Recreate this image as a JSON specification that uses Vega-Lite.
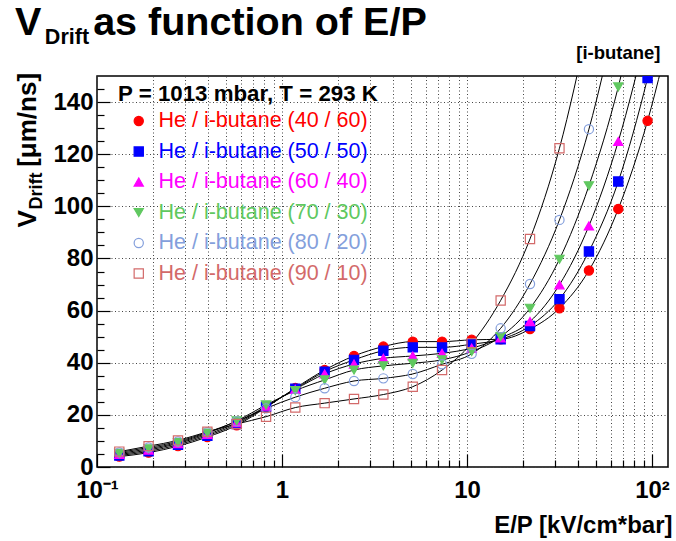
{
  "$schema": "https://vega.github.io/schema/vega-lite/v6.json",
  "width": 571,
  "height": 391,
  "autosize": {"type": "none"},
  "padding": {"left": 97, "top": 76, "right": 8, "bottom": 74},
  "background": "white",
  "title": {
    "text": "V\u00a0\u00a0\u00a0\u00a0\u2009as function of E/P",
    "subtitle": "\u200b\u00a0\u00a0\u00a0\u00a0\u00a0Drift",
    "anchor": "start",
    "frame": "group",
    "dx": -82,
    "offset": -6,
    "font": "Liberation Sans",
    "fontSize": 39.5,
    "fontWeight": "bold",
    "color": "black",
    "subtitleFont": "Liberation Sans",
    "subtitleFontSize": 21.5,
    "subtitleFontWeight": "bold",
    "subtitleColor": "black",
    "subtitlePadding": -17
  },
  "config": {
    "font": "Liberation Sans",
    "view": {"stroke": "black", "strokeWidth": 1.5},
    "axis": {
      "labelFont": "Liberation Sans",
      "labelFontWeight": "bold",
      "labelFontSize": 24,
      "labelColor": "black",
      "titleFont": "Liberation Sans",
      "titleFontWeight": "bold",
      "titleColor": "black",
      "tickColor": "black",
      "tickWidth": 1.2,
      "gridColor": "#444444",
      "gridDash": [1, 2.5],
      "gridOpacity": 1,
      "gridWidth": 1,
      "domain": false
    }
  },
  "data": {
    "values": [
      {"series": "He / i-butane (40 / 60)", "x": 0.132, "v": 4.0},
      {"series": "He / i-butane (40 / 60)", "x": 0.19, "v": 5.5},
      {"series": "He / i-butane (40 / 60)", "x": 0.274, "v": 8.0},
      {"series": "He / i-butane (40 / 60)", "x": 0.395, "v": 11.5},
      {"series": "He / i-butane (40 / 60)", "x": 0.569, "v": 16.0},
      {"series": "He / i-butane (40 / 60)", "x": 0.82, "v": 22.8},
      {"series": "He / i-butane (40 / 60)", "x": 1.18, "v": 30.3},
      {"series": "He / i-butane (40 / 60)", "x": 1.7, "v": 37.2},
      {"series": "He / i-butane (40 / 60)", "x": 2.45, "v": 42.6},
      {"series": "He / i-butane (40 / 60)", "x": 3.53, "v": 46.2},
      {"series": "He / i-butane (40 / 60)", "x": 5.09, "v": 48.1},
      {"series": "He / i-butane (40 / 60)", "x": 7.33, "v": 48.1},
      {"series": "He / i-butane (40 / 60)", "x": 10.6, "v": 48.8},
      {"series": "He / i-butane (40 / 60)", "x": 15.2, "v": 49.0},
      {"series": "He / i-butane (40 / 60)", "x": 21.9, "v": 52.9},
      {"series": "He / i-butane (40 / 60)", "x": 31.6, "v": 60.9},
      {"series": "He / i-butane (40 / 60)", "x": 45.6, "v": 75.4},
      {"series": "He / i-butane (40 / 60)", "x": 65.7, "v": 99.0},
      {"series": "He / i-butane (40 / 60)", "x": 94.6, "v": 132.8},
      {"series": "He / i-butane (40 / 60)", "x": 136, "v": 178},
      {"series": "He / i-butane (50 / 50)", "x": 0.132, "v": 4.4},
      {"series": "He / i-butane (50 / 50)", "x": 0.19, "v": 6.0},
      {"series": "He / i-butane (50 / 50)", "x": 0.274, "v": 8.5},
      {"series": "He / i-butane (50 / 50)", "x": 0.395, "v": 12.0},
      {"series": "He / i-butane (50 / 50)", "x": 0.569, "v": 16.5},
      {"series": "He / i-butane (50 / 50)", "x": 0.82, "v": 23.1},
      {"series": "He / i-butane (50 / 50)", "x": 1.18, "v": 30.0},
      {"series": "He / i-butane (50 / 50)", "x": 1.7, "v": 36.6},
      {"series": "He / i-butane (50 / 50)", "x": 2.45, "v": 41.1},
      {"series": "He / i-butane (50 / 50)", "x": 3.53, "v": 44.6},
      {"series": "He / i-butane (50 / 50)", "x": 5.09, "v": 45.9},
      {"series": "He / i-butane (50 / 50)", "x": 7.33, "v": 45.9},
      {"series": "He / i-butane (50 / 50)", "x": 10.6, "v": 47.1},
      {"series": "He / i-butane (50 / 50)", "x": 15.2, "v": 49.0},
      {"series": "He / i-butane (50 / 50)", "x": 21.9, "v": 54.1},
      {"series": "He / i-butane (50 / 50)", "x": 31.6, "v": 64.4},
      {"series": "He / i-butane (50 / 50)", "x": 45.6, "v": 82.7},
      {"series": "He / i-butane (50 / 50)", "x": 65.7, "v": 109.5},
      {"series": "He / i-butane (50 / 50)", "x": 94.6, "v": 149.2},
      {"series": "He / i-butane (50 / 50)", "x": 136, "v": 200},
      {"series": "He / i-butane (60 / 40)", "x": 0.132, "v": 4.8},
      {"series": "He / i-butane (60 / 40)", "x": 0.19, "v": 6.5},
      {"series": "He / i-butane (60 / 40)", "x": 0.274, "v": 9.0},
      {"series": "He / i-butane (60 / 40)", "x": 0.395, "v": 12.5},
      {"series": "He / i-butane (60 / 40)", "x": 0.569, "v": 17.0},
      {"series": "He / i-butane (60 / 40)", "x": 0.82, "v": 23.3},
      {"series": "He / i-butane (60 / 40)", "x": 1.18, "v": 29.8},
      {"series": "He / i-butane (60 / 40)", "x": 1.7, "v": 35.7},
      {"series": "He / i-butane (60 / 40)", "x": 2.45, "v": 39.5},
      {"series": "He / i-butane (60 / 40)", "x": 3.53, "v": 41.7},
      {"series": "He / i-butane (60 / 40)", "x": 5.09, "v": 42.6},
      {"series": "He / i-butane (60 / 40)", "x": 7.33, "v": 43.6},
      {"series": "He / i-butane (60 / 40)", "x": 10.6, "v": 45.6},
      {"series": "He / i-butane (60 / 40)", "x": 15.2, "v": 49.5},
      {"series": "He / i-butane (60 / 40)", "x": 21.9, "v": 55.8},
      {"series": "He / i-butane (60 / 40)", "x": 31.6, "v": 69.9},
      {"series": "He / i-butane (60 / 40)", "x": 45.6, "v": 92.5},
      {"series": "He / i-butane (60 / 40)", "x": 65.7, "v": 124.9},
      {"series": "He / i-butane (60 / 40)", "x": 94.6, "v": 168},
      {"series": "He / i-butane (70 / 30)", "x": 0.132, "v": 5.2},
      {"series": "He / i-butane (70 / 30)", "x": 0.19, "v": 7.0},
      {"series": "He / i-butane (70 / 30)", "x": 0.274, "v": 9.4},
      {"series": "He / i-butane (70 / 30)", "x": 0.395, "v": 13.0},
      {"series": "He / i-butane (70 / 30)", "x": 0.569, "v": 17.7},
      {"series": "He / i-butane (70 / 30)", "x": 0.82, "v": 23.8},
      {"series": "He / i-butane (70 / 30)", "x": 1.18, "v": 29.3},
      {"series": "He / i-butane (70 / 30)", "x": 1.7, "v": 33.4},
      {"series": "He / i-butane (70 / 30)", "x": 2.45, "v": 37.2},
      {"series": "He / i-butane (70 / 30)", "x": 3.53, "v": 38.8},
      {"series": "He / i-butane (70 / 30)", "x": 5.09, "v": 39.8},
      {"series": "He / i-butane (70 / 30)", "x": 7.33, "v": 41.1},
      {"series": "He / i-butane (70 / 30)", "x": 10.6, "v": 44.3},
      {"series": "He / i-butane (70 / 30)", "x": 15.2, "v": 50.0},
      {"series": "He / i-butane (70 / 30)", "x": 21.9, "v": 60.9},
      {"series": "He / i-butane (70 / 30)", "x": 31.6, "v": 79.7},
      {"series": "He / i-butane (70 / 30)", "x": 45.6, "v": 107.9},
      {"series": "He / i-butane (70 / 30)", "x": 65.7, "v": 145.8},
      {"series": "He / i-butane (70 / 30)", "x": 94.6, "v": 197},
      {"series": "He / i-butane (80 / 20)", "x": 0.132, "v": 5.6},
      {"series": "He / i-butane (80 / 20)", "x": 0.19, "v": 7.5},
      {"series": "He / i-butane (80 / 20)", "x": 0.274, "v": 9.8},
      {"series": "He / i-butane (80 / 20)", "x": 0.395, "v": 13.3},
      {"series": "He / i-butane (80 / 20)", "x": 0.569, "v": 17.5},
      {"series": "He / i-butane (80 / 20)", "x": 0.82, "v": 22.5},
      {"series": "He / i-butane (80 / 20)", "x": 1.18, "v": 26.8},
      {"series": "He / i-butane (80 / 20)", "x": 1.7, "v": 30.2},
      {"series": "He / i-butane (80 / 20)", "x": 2.45, "v": 33.0},
      {"series": "He / i-butane (80 / 20)", "x": 3.53, "v": 34.0},
      {"series": "He / i-butane (80 / 20)", "x": 5.09, "v": 35.7},
      {"series": "He / i-butane (80 / 20)", "x": 7.33, "v": 39.4},
      {"series": "He / i-butane (80 / 20)", "x": 10.6, "v": 43.4},
      {"series": "He / i-butane (80 / 20)", "x": 15.2, "v": 53.2},
      {"series": "He / i-butane (80 / 20)", "x": 21.9, "v": 70.2},
      {"series": "He / i-butane (80 / 20)", "x": 31.6, "v": 94.8},
      {"series": "He / i-butane (80 / 20)", "x": 45.6, "v": 129.6},
      {"series": "He / i-butane (80 / 20)", "x": 65.7, "v": 177},
      {"series": "He / i-butane (90 / 10)", "x": 0.132, "v": 5.9},
      {"series": "He / i-butane (90 / 10)", "x": 0.19, "v": 8.0},
      {"series": "He / i-butane (90 / 10)", "x": 0.274, "v": 10.2},
      {"series": "He / i-butane (90 / 10)", "x": 0.395, "v": 13.5},
      {"series": "He / i-butane (90 / 10)", "x": 0.569, "v": 16.5},
      {"series": "He / i-butane (90 / 10)", "x": 0.82, "v": 19.3},
      {"series": "He / i-butane (90 / 10)", "x": 1.18, "v": 22.8},
      {"series": "He / i-butane (90 / 10)", "x": 1.7, "v": 24.5},
      {"series": "He / i-butane (90 / 10)", "x": 2.45, "v": 26.1},
      {"series": "He / i-butane (90 / 10)", "x": 3.53, "v": 27.8},
      {"series": "He / i-butane (90 / 10)", "x": 5.09, "v": 30.8},
      {"series": "He / i-butane (90 / 10)", "x": 7.33, "v": 37.2},
      {"series": "He / i-butane (90 / 10)", "x": 10.6, "v": 47.5},
      {"series": "He / i-butane (90 / 10)", "x": 15.2, "v": 63.9},
      {"series": "He / i-butane (90 / 10)", "x": 21.9, "v": 87.5},
      {"series": "He / i-butane (90 / 10)", "x": 31.6, "v": 122.3},
      {"series": "He / i-butane (90 / 10)", "x": 45.6, "v": 171}
    ]
  },
  "layer": [
    {
      "mark": {"type": "line", "color": "black", "strokeWidth": 1, "interpolate": "monotone", "clip": true},
      "encoding": {
        "x": {
          "field": "x", "type": "quantitative",
          "scale": {"type": "log", "domain": [0.1, 122], "nice": false},
          "axis": {
            "orient": "bottom",
            "values": [0.1, 1, 10, 100],
            "grid": true,
            "tickSize": -13,
            "labelPadding": 24,
            "labelFlush": false,
            "labelExpr": "datum.value < 0.5 ? '10⁻¹' : datum.value > 50 ? '10²' : datum.value < 5 ? '1' : '10'",
            "title": "E/P [kV/cm*bar]",
            "titleFontSize": 24,
            "titleAlign": "right",
            "titleBaseline": "alphabetic",
            "titleX": 575,
            "titleY": 65
          }
        },
        "y": {
          "field": "v", "type": "quantitative",
          "scale": {"domain": [0, 150], "nice": false, "zero": true},
          "axis": {
            "orient": "left",
            "values": [0, 20, 40, 60, 80, 100, 120, 140],
            "grid": true,
            "tickSize": -13,
            "labelPadding": 17,
            "title": "V\u00a0\u00a0\u00a0\u00a0\u00a0\u00a0[μm/ns]",
            "titleFontSize": 26,
            "titleAngle": 270,
            "titleAlign": "left",
            "titleBaseline": "alphabetic",
            "titleX": -62,
            "titleY": 151
          }
        },
        "detail": {"field": "series"}
      }
    },
    {
      "mark": {"type": "point", "filled": true, "size": 85, "strokeWidth": 1.2, "opacity": 1, "clip": true},
      "encoding": {
        "x": {
          "field": "x", "type": "quantitative",
          "scale": {"type": "log", "domain": [0.1, 122], "nice": false},
          "axis": {
            "orient": "bottom",
            "values": [0.2, 0.3, 0.4, 0.5, 0.6, 0.7, 0.8, 0.9, 2, 3, 4, 5, 6, 7, 8, 9, 20, 30, 40, 50, 60, 70, 80, 90],
            "grid": true,
            "tickSize": -7,
            "labels": false,
            "title": null
          }
        },
        "y": {
          "field": "v", "type": "quantitative",
          "scale": {"domain": [0, 150], "nice": false},
          "axis": {
            "orient": "left",
            "values": [5, 10, 15, 25, 30, 35, 45, 50, 55, 65, 70, 75, 85, 90, 95, 105, 110, 115, 125, 130, 135, 145],
            "grid": false,
            "tickSize": -7,
            "labels": false,
            "title": "Drift",
            "titleFontSize": 18,
            "titleAngle": 270,
            "titleAlign": "left",
            "titleBaseline": "alphabetic",
            "titleX": -56,
            "titleY": 133
          }
        },
        "shape": {
          "field": "series", "type": "nominal",
          "scale": {"range": ["circle", "square", "triangle-up", "triangle-down", "circle", "square"]},
          "legend": {
            "orient": "none",
            "legendX": 21,
            "legendY": 7,
            "padding": 0,
            "title": "P = 1013 mbar, T = 293 K",
            "titleFont": "Liberation Sans",
            "titleFontSize": 22.3,
            "titleFontWeight": "bold",
            "titleColor": "black",
            "titleLimit": 500,
            "titlePadding": 5,
            "labelFont": "Liberation Sans",
            "labelFontSize": 21.5,
            "labelLimit": 500,
            "labelOffset": 9,
            "labelColor": {"expr": "scale('stroke', datum.value)"},
            "symbolOffset": 10,
            "symbolSize": 85,
            "symbolStrokeWidth": 1.2,
            "rowPadding": 7.5
          }
        },
        "fill": {
          "field": "series", "type": "nominal",
          "scale": {"range": ["#ff0000", "#0000ff", "#ff00ff", "#60c860", "transparent", "transparent"]}
        },
        "stroke": {
          "field": "series", "type": "nominal",
          "scale": {"range": ["#ff0000", "#0000ff", "#ff00ff", "#60c860", "#849fdc", "#d36a6a"]}
        }
      }
    },
    {
      "mark": {"type": "point", "opacity": 0, "clip": true},
      "encoding": {
        "x": {
          "field": "x", "type": "quantitative",
          "scale": {"type": "log", "domain": [0.1, 122], "nice": false},
          "axis": {
            "orient": "top",
            "labels": false,
            "ticks": false,
            "grid": false,
            "domain": false,
            "title": "[i-butane]",
            "titleFontSize": 18.5,
            "titleAlign": "right",
            "titleBaseline": "alphabetic",
            "titleX": 563,
            "titleY": -18
          }
        },
        "y": {
          "field": "v", "type": "quantitative",
          "scale": {"domain": [0, 150], "nice": false},
          "axis": null
        }
      }
    }
  ],
  "resolve": {"axis": {"x": "independent", "y": "independent"}}
}
